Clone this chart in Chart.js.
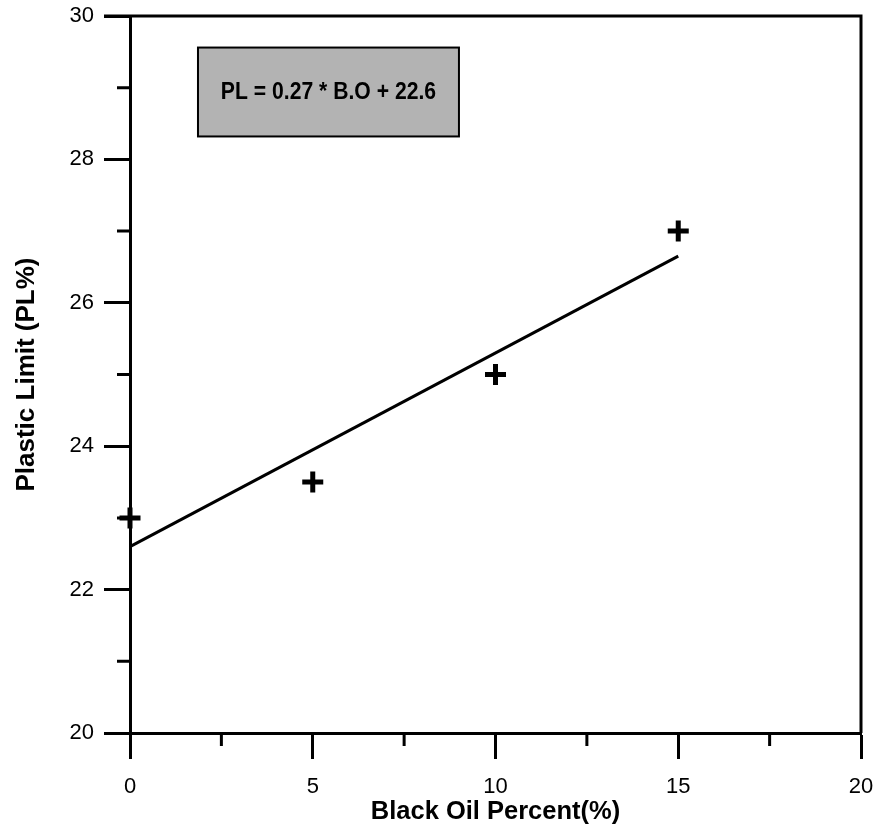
<!DOCTYPE html>
<html>
<head>
<meta charset="utf-8">
<script src="https://cdn.jsdelivr.net/npm/chart.js@4.4.1/dist/chart.umd.min.js"></script>
<style>
  html, body { margin: 0; padding: 0; background: #fff; }
  #wrap { width: 880px; height: 832px; }
</style>
</head>
<body>
<div id="wrap"><canvas id="plChart" width="880" height="832"></canvas></div>
<script>
// measured values
const blackOil = [0, 5, 10, 15];
const plasticLimit = [23, 23.5, 25, 27];

// fitted line endpoints as drawn
const fitX = [0, 15];
const fitY = [22.6, 26.65];

const xMajorTicks = [0, 5, 10, 15, 20];
const xMinorTicks = [2.5, 7.5, 12.5, 17.5];
const yMajorTicks = [20, 22, 24, 26, 28, 30];
const yMinorTicks = [21, 23, 25, 27, 29];

const eqText = 'PL = 0.27 * B.O + 22.6';

const FONT = "'Liberation Sans', Arial, sans-serif";

const frame = {
    id: 'frame',
    afterDraw(chart) {
        const ctx = chart.ctx;
        const a = chart.chartArea;
        const xs = chart.scales.x;
        const ys = chart.scales.y;
        ctx.save();
        ctx.strokeStyle = '#000';
        ctx.lineWidth = 3;
        ctx.lineCap = 'butt';

        // top and right sides of the box
        ctx.beginPath();
        ctx.moveTo(a.left - 26, a.top);
        ctx.lineTo(a.right, a.top);
        ctx.lineTo(a.right, a.bottom);
        ctx.stroke();

        // minor ticks
        ctx.beginPath();
        yMinorTicks.forEach(v => {
            const y = ys.getPixelForValue(v);
            ctx.moveTo(a.left - 13, y);
            ctx.lineTo(a.left, y);
        });
        xMinorTicks.forEach(v => {
            const x = xs.getPixelForValue(v);
            ctx.moveTo(x, a.bottom);
            ctx.lineTo(x, a.bottom + 13);
        });
        ctx.stroke();

        // equation box
        const bx1 = xs.getPixelForValue(1.86);
        const bx2 = xs.getPixelForValue(9.0);
        const by1 = ys.getPixelForValue(29.56);
        const by2 = ys.getPixelForValue(28.32);
        ctx.fillStyle = '#b3b3b3';
        ctx.fillRect(bx1, by1, bx2 - bx1, by2 - by1);
        ctx.lineWidth = 2;
        ctx.strokeRect(bx1, by1, bx2 - bx1, by2 - by1);
        ctx.fillStyle = '#000';
        ctx.font = 'bold 23px ' + FONT;
        ctx.textAlign = 'center';
        ctx.textBaseline = 'middle';
        ctx.translate((bx1 + bx2) / 2, (by1 + by2) / 2 + 1);
        ctx.scale(0.92, 1);
        ctx.fillText(eqText, 0, 0);
        ctx.restore();
    }
};

const ctx = document.getElementById('plChart').getContext('2d');
const plChart = new Chart(ctx, {
    type: 'scatter',
    data: {
        datasets: [{
            label: 'Plastic Limit',
            data: blackOil.map((x, i) => ({ x: x, y: plasticLimit[i] })),
            pointStyle: 'cross',
            pointRadius: 10.5,
            pointBorderWidth: 5,
            borderColor: '#000',
            backgroundColor: '#000',
            showLine: false,
            clip: false
        }, {
            label: 'Fit',
            data: fitX.map((x, i) => ({ x: x, y: fitY[i] })),
            showLine: true,
            pointRadius: 0,
            borderWidth: 3,
            borderColor: '#000',
            fill: false,
            clip: false
        }]
    },
    options: {
        responsive: false,
        animation: false,
        layout: { padding: { top: 16, right: 19, left: 0, bottom: 0 } },
        plugins: {
            legend: { display: false },
            tooltip: { enabled: false }
        },
        scales: {
            x: {
                type: 'linear',
                min: 0,
                max: 20,
                afterBuildTicks: s => { s.ticks = xMajorTicks.map(v => ({ value: v })); },
                afterFit: s => { s.height = 99; s.paddingLeft = 0; s.paddingRight = 0; },
                border: { display: true, color: '#000', width: 3 },
                grid: {
                    display: true,
                    drawOnChartArea: false,
                    drawTicks: true,
                    tickLength: 26,
                    tickWidth: 3,
                    tickColor: '#000'
                },
                ticks: {
                    color: '#000',
                    padding: 15,
                    maxRotation: 0,
                    font: { family: FONT, size: 22 }
                },
                title: {
                    display: true,
                    text: 'Black Oil Percent(%)',
                    color: '#000',
                    font: { family: FONT, size: 25.5, weight: 'bold' },
                    padding: { top: 0, bottom: 5 }
                }
            },
            y: {
                type: 'linear',
                min: 20,
                max: 30,
                afterBuildTicks: s => { s.ticks = yMajorTicks.map(v => ({ value: v })); },
                afterFit: s => { s.width = 130; s.paddingTop = 0; s.paddingBottom = 0; },
                border: { display: true, color: '#000', width: 3 },
                grid: {
                    display: true,
                    drawOnChartArea: false,
                    drawTicks: true,
                    tickLength: 26,
                    tickWidth: 3,
                    tickColor: '#000'
                },
                ticks: {
                    color: '#000',
                    padding: 10,
                    font: { family: FONT, size: 22 }
                },
                title: {
                    display: true,
                    text: 'Plastic Limit (PL%)',
                    color: '#000',
                    font: { family: FONT, size: 26, weight: 'bold' },
                    padding: { top: 11, bottom: 0 }
                }
            }
        }
    },
    plugins: [frame]
});
</script>
</body>
</html>
